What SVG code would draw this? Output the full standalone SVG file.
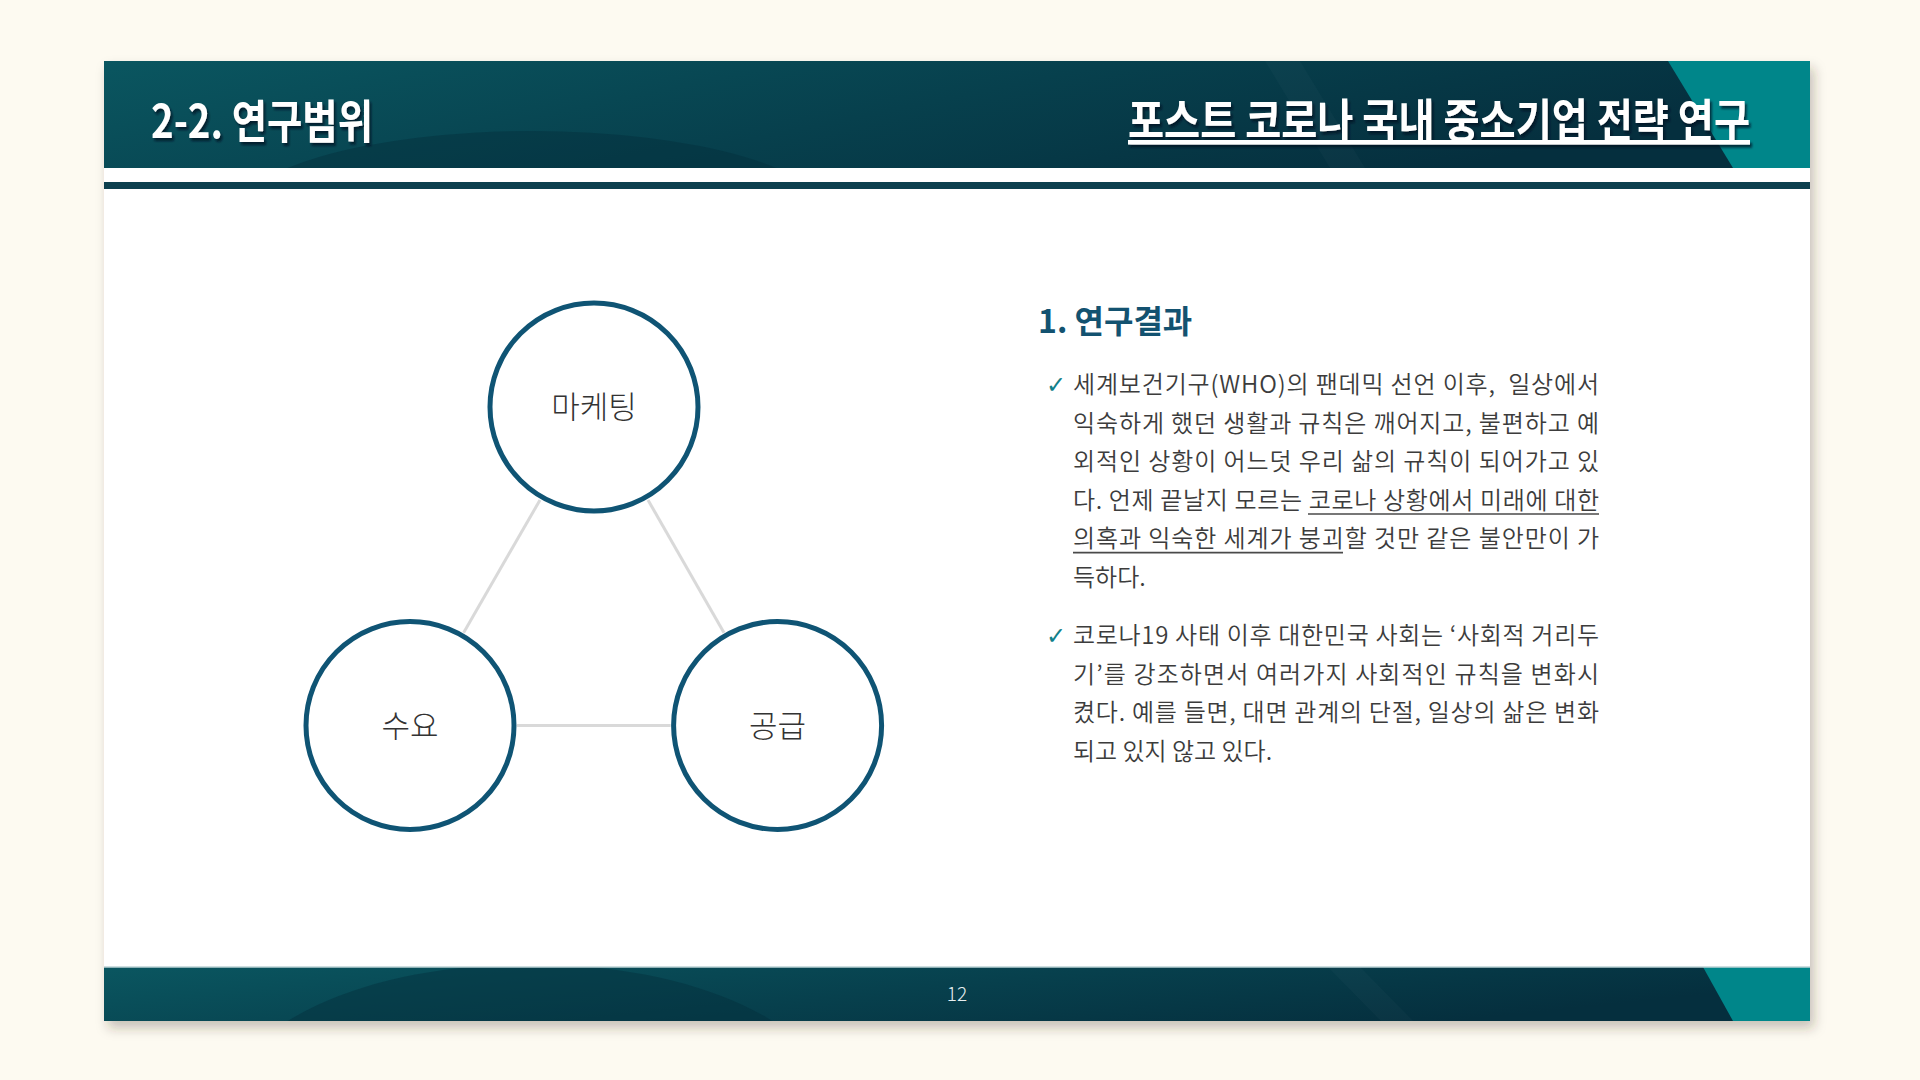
<svg xmlns="http://www.w3.org/2000/svg" width="1920" height="1080" viewBox="0 0 1920 1080">
  <defs>
    <linearGradient id="bandGrad" x1="0" y1="0" x2="1" y2="0.3">
      <stop offset="0" stop-color="#0a5660"/>
      <stop offset="0.55" stop-color="#07404d"/>
      <stop offset="1" stop-color="#052f3e"/>
    </linearGradient>
    <clipPath id="headClip"><rect x="104" y="61" width="1706" height="107"/></clipPath>
    <clipPath id="footClip"><rect x="104" y="967" width="1706" height="54"/></clipPath>
    <filter id="cardShadow" x="-5%" y="-5%" width="110%" height="115%">
      <feDropShadow dx="4" dy="7" stdDeviation="6" flood-color="#3a3320" flood-opacity="0.28"/>
    </filter>
    <filter id="txtShadow" x="-5%" y="-20%" width="110%" height="150%">
      <feDropShadow dx="2" dy="3" stdDeviation="1.2" flood-color="#001820" flood-opacity="0.75"/>
    </filter>
  </defs>
  <style>
    .kr { font-family: "Noto Sans CJK KR", "Noto Sans", sans-serif; }
    .title { fill: #ffffff; font-size: 46px; font-weight: 700; }
    .body { fill: #3c3c3c; font-size: 24px; font-weight: 350; white-space: pre; }
    .check { fill: #11808a; font-size: 24px; font-family: "DejaVu Sans", sans-serif; }
    .node circle { fill: #ffffff; stroke: #0f5474; stroke-width: 5; }
    .node text { fill: #333333; font-size: 31px; font-weight: 300; text-anchor: middle; }
    .conn line { stroke: #d9d9d9; stroke-width: 3; }
    .ul { stroke: #4a4a4a; stroke-width: 1.6; }
  </style>

  <rect width="1920" height="1080" fill="#fdfaf1"/>

  <!-- card -->
  <rect x="104" y="61" width="1706" height="960" fill="#ffffff" filter="url(#cardShadow)"/>

  <!-- header band -->
  <g id="header">
    <g clip-path="url(#headClip)">
      <rect x="104" y="61" width="1706" height="107" fill="url(#bandGrad)"/>
      <ellipse cx="532" cy="219" rx="300" ry="88" fill="#052f3c" opacity="0.45"/>
      <polygon points="1265,61 1300,61 1365,168 1330,168" fill="#ffffff" opacity="0.025"/>
      <polygon points="1668,61 1810,61 1810,168 1733,168" fill="#00868a"/>
    </g>
    <rect x="104" y="182" width="1706" height="7" fill="#0c3f4e"/>
    <text class="kr title" x="151" y="138" textLength="222" lengthAdjust="spacingAndGlyphs" filter="url(#txtShadow)">2-2. 연구범위</text>
    <text class="kr title" x="1128" y="137" textLength="622" lengthAdjust="spacingAndGlyphs" text-decoration="underline" filter="url(#txtShadow)">포스트 코로나 국내 중소기업 전략 연구</text>
  </g>

  <!-- footer band -->
  <g id="footer">
    <g clip-path="url(#footClip)">
      <rect x="104" y="967" width="1706" height="54" fill="url(#bandGrad)"/>
      <ellipse cx="530" cy="1103" rx="300" ry="139" fill="#052f3c" opacity="0.45"/>
      <polygon points="1328,967 1360,967 1413,1021 1381,1021" fill="#ffffff" opacity="0.025"/>
      <polygon points="1703,967 1810,967 1810,1021 1733,1021" fill="#00868a"/>
    </g>
    <line x1="104" y1="967" x2="1810" y2="967" stroke="#bcd3d6" stroke-width="1.5"/>
    <text class="kr" x="957" y="1001" font-size="19" font-weight="300" fill="#e6eef0" text-anchor="middle">12</text>
  </g>

  <!-- connectors -->
  <g id="connectors" class="conn">
    <line x1="540" y1="500" x2="463.6" y2="632.7"/>
    <line x1="648" y1="500" x2="724" y2="632.7"/>
    <line x1="517" y1="725.5" x2="670.6" y2="725.5"/>
  </g>

  <!-- nodes -->
  <g id="node-marketing" class="node kr">
    <circle cx="594" cy="407" r="104"/>
    <text x="594" y="418">마케팅</text>
  </g>
  <g id="node-demand" class="node kr">
    <circle cx="410" cy="725.5" r="104"/>
    <text x="410" y="736.5">수요</text>
  </g>
  <g id="node-supply" class="node kr">
    <circle cx="777.6" cy="725.5" r="104"/>
    <text x="777.6" y="736.5">공급</text>
  </g>

  <!-- text panel -->
  <g id="results">
    <text class="kr" x="1038" y="333" font-size="32" font-weight="700" fill="#135270">1. 연구결과</text>

    <text class="check" x="1046" y="393">✓</text>
    <text class="kr body" x="1073" y="393" textLength="526" lengthAdjust="spacing">세계보건기구(WHO)의 팬데믹 선언 이후,  일상에서</text>
    <text class="kr body" x="1073" y="431.6" textLength="526" lengthAdjust="spacing">익숙하게 했던 생활과 규칙은 깨어지고, 불편하고 예</text>
    <text class="kr body" x="1073" y="470.2" textLength="526" lengthAdjust="spacing">외적인 상황이 어느덧 우리 삶의 규칙이 되어가고 있</text>
    <text class="kr body" x="1073" y="508.8" textLength="526" lengthAdjust="spacing">다. 언제 끝날지 모르는 코로나 상황에서 미래에 대한</text>
    <line class="ul" x1="1308" y1="514" x2="1599" y2="514"/>
    <text class="kr body" x="1073" y="547.4" textLength="526" lengthAdjust="spacing">의혹과 익숙한 세계가 붕괴할 것만 같은 불안만이 가</text>
    <line class="ul" x1="1073" y1="552.6" x2="1343" y2="552.6"/>
    <text class="kr body" x="1073" y="586">득하다.</text>

    <text class="check" x="1046" y="644">✓</text>
    <text class="kr body" x="1073" y="644" textLength="526" lengthAdjust="spacing">코로나19 사태 이후 대한민국 사회는 ‘사회적 거리두</text>
    <text class="kr body" x="1073" y="682.6" textLength="526" lengthAdjust="spacing">기’를 강조하면서 여러가지 사회적인 규칙을 변화시</text>
    <text class="kr body" x="1073" y="721.2" textLength="526" lengthAdjust="spacing">켰다. 예를 들면, 대면 관계의 단절, 일상의 삶은 변화</text>
    <text class="kr body" x="1073" y="759.8">되고 있지 않고 있다.</text>
  </g>
</svg>
